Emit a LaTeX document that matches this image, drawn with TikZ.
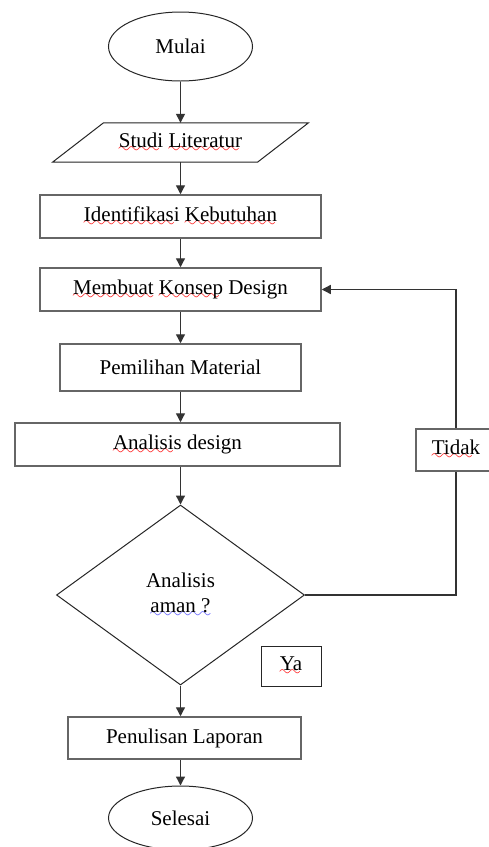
\documentclass[tikz,border=0pt]{standalone}
\usepackage{fontspec}
\setmainfont{Liberation Serif}
\usetikzlibrary{shapes.geometric,arrows.meta}
\font\wavefnt=lasy10 scaled 1500
\newcommand\wavy[2]{\setbox0\hbox{#2}\rlap{\textcolor{#1}{\lower5pt\hbox to\wd0{\leaders\hbox{\wavefnt\char58}\hfill}}}\box0\relax}
\newcommand\rw[1]{\wavy{red}{#1}}
\newcommand\bw[1]{\wavy{blue!70}{#1}}
\begin{document}
\begin{tikzpicture}[x=1pt,y=-1pt,
  every node/.style={font=\fontsize{21}{26}\selectfont, inner sep=0pt},
  term/.style={ellipse, draw=black!85, line width=1pt, minimum width=144pt},
  boxst/.style={rectangle, draw=black!60, line width=1.5pt, fill=white},
  conn/.style={draw=black!80, line width=1.3pt},
  arr/.style={conn, -{Triangle[width=9pt,length=9pt]}}]
\useasboundingbox (0,0) rectangle (489,847);
\clip (0,0) rectangle (489,847);
\fill[white] (0,0) rectangle (489,847);

\node[term, minimum height=69pt] (mulai) at (180.5,46.5) {Mulai};
\node[minimum width=154pt, minimum height=39pt] (studi) at (180.5,142.5) {\rw{Studi} \rw{Literatur}};
\draw[draw=black!85, line width=1pt] ([xshift=-77pt]studi.north) -- ([xshift=128pt]studi.north)
  -- ([xshift=77pt]studi.south) -- ([xshift=-128pt]studi.south) -- cycle;
\node[boxst, minimum width=281pt, minimum height=43pt] (ident) at (180.5,216.5) {\rw{Identifikasi} \rw{Kebutuhan}};
\node[boxst, minimum width=281pt, minimum height=43pt] (konsep) at (180.5,289.5) {\rw{Membuat} \rw{Konsep} Design};
\node[boxst, minimum width=241pt, minimum height=47pt] (pemilihan) at (180.5,367.5) {Pemilihan Material};
\node[boxst, minimum width=325pt, minimum height=43pt] (analisis) at (177.5,444.5) {\rw{Analisis} design};
\node[diamond, draw=black!85, line width=1pt, minimum width=248pt, minimum height=180pt, align=center] (dia) at (180.5,595) {Analisis\\[-1pt]\bw{aman ?}};
\node[boxst, draw=black!85, line width=1pt, minimum width=60pt, minimum height=40pt] (ya) at (291,666) {\rw{Ya}};
\node[boxst, minimum width=233pt, minimum height=42pt] (penulisan) at (184.5,738) {Penulisan Laporan};
\node[term, minimum height=64pt] (selesai) at (180.5,818) {Selesai};

\draw[arr] (mulai.south) -- (studi.north);
\draw[arr] (studi.south) -- (ident.north);
\draw[arr] (ident.south) -- (konsep.north);
\draw[arr] (konsep.south) -- (pemilihan.north);
\draw[arr] (pemilihan.south) -- (pemilihan.south |- analisis.north);
\draw[arr] (dia.north |- analisis.south) -- (dia.north);
\draw[arr] (dia.south) -- (dia.south |- penulisan.north);
\draw[arr] (selesai.north |- penulisan.south) -- (selesai.north);

\draw[conn] (dia.east) -| (456,450);
\draw[arr] (456,450) |- (konsep.east);
\node[boxst, minimum width=80pt, minimum height=42pt] (tidak) at (456,450) {\rw{Tidak}};
\end{tikzpicture}
\end{document}
